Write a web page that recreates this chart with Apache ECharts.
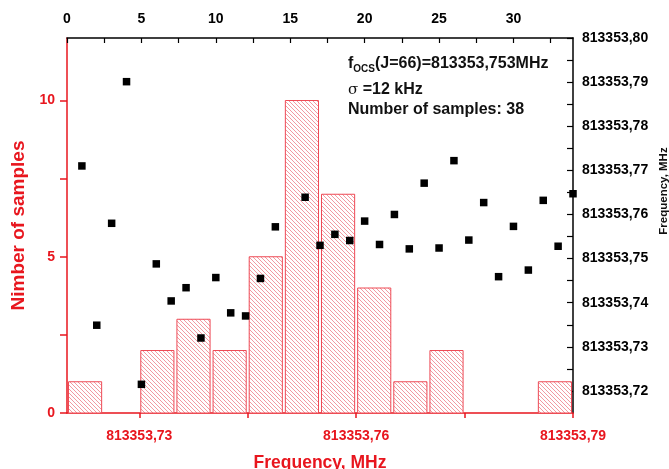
<!DOCTYPE html>
<html><head><meta charset="utf-8">
<script src="https://cdn.jsdelivr.net/npm/echarts@6/dist/echarts.min.js"></script>
<style>html,body{margin:0;padding:0;background:#fff;overflow:hidden}#c{width:669px;height:469px}</style>
</head><body><div id="c"></div>
<script>
// ---- data ----
const binStarts = [813353.720, 813353.730, 813353.735, 813353.740, 813353.745, 813353.750, 813353.755, 813353.760, 813353.765, 813353.770, 813353.785];
const binWidth = 0.005;
const binCounts = [1, 2, 3, 2, 5, 10, 7, 4, 1, 2, 1];
const sampleIndex = [1,2,3,4,5,6,7,8,9,10,11,12,13,14,16,17,18,19,20,21,22,23,24,25,26,27,28,29,30,31,32,33,34];
const sampleFreq = [813353.7710, 813353.7349, 813353.7580, 813353.7901, 813353.7215, 813353.7488, 813353.7404, 813353.7434, 813353.7320, 813353.7457, 813353.7377, 813353.7370, 813353.7455, 813353.7572, 813353.7639, 813353.7530, 813353.7555, 813353.7541, 813353.7585, 813353.7532, 813353.7600, 813353.7522, 813353.7671, 813353.7524, 813353.7722, 813353.7542, 813353.7627, 813353.7459, 813353.7573, 813353.7474, 813353.7632, 813353.7528, 813353.7647];
const bottomTickLabels = [813353.73, 813353.76, 813353.79];
const bottomTicks = [813353.73, 813353.745, 813353.76, 813353.775, 813353.79];
const topTickLabels = [0, 5, 10, 15, 20, 25, 30];
const topTicks = [0, 2.5, 5, 7.5, 10, 12.5, 15, 17.5, 20, 22.5, 25, 27.5, 30, 32.5];
const leftTickLabels = [0, 5, 10];
const leftTicks = [0, 2.5, 5, 7.5, 10];
const rightTickLabels = [813353.72, 813353.73, 813353.74, 813353.75, 813353.76, 813353.77, 813353.78, 813353.79, 813353.80];
const rightTicks = [813353.72, 813353.725, 813353.73, 813353.735, 813353.74, 813353.745, 813353.75, 813353.755, 813353.76, 813353.765, 813353.77, 813353.775, 813353.78, 813353.785, 813353.79, 813353.795, 813353.80];

// ---- styles ----
const RED = '#e8161e';
const FONT = '"Liberation Sans", Arial, Helvetica, sans-serif';
const fmt2 = v => v.toFixed(2).replace('.', ',');

// hatch pattern
const pat = document.createElement('canvas');
const P = 4;
pat.width = P; pat.height = P;
const pc = pat.getContext('2d');
pc.fillStyle = '#fff'; pc.fillRect(0, 0, P, P);
pc.strokeStyle = '#f19aa2'; pc.lineWidth = 1;
pc.beginPath();
pc.moveTo(-1, -1); pc.lineTo(P + 1, P + 1);
pc.moveTo(-1, P - 1); pc.lineTo(1, P + 1);
pc.moveTo(P - 1, -1); pc.lineTo(P + 1, 1);
pc.stroke();

const histData = binStarts.map((s, i) => [s, s + binWidth, binCounts[i]]);
const scatterData = sampleIndex.map((n, i) => [n, sampleFreq[i]]);

const chart = echarts.init(document.getElementById('c'), null, {renderer: 'canvas'});
chart.setOption({
  animation: false,
  backgroundColor: '#fff',
  grid: {left: 67, right: 96, top: 38, bottom: 56, containLabel: false, outerBoundsMode: 'none'},
  xAxis: [
    {
      type: 'value', position: 'bottom', min: 813353.72, max: 813353.79,
      axisLine: {show: true, lineStyle: {color: RED, width: 1.5}},
      axisTick: {show: true, inside: false, length: 5, customValues: bottomTicks, lineStyle: {color: RED, width: 1.5}},
      axisLabel: {customValues: bottomTickLabels, formatter: fmt2, color: RED, fontSize: 14, fontWeight: 'bold', fontFamily: FONT, margin: 16},
      splitLine: {show: false},
      name: 'Frequency, MHz', nameLocation: 'middle', nameGap: 41,
      nameTextStyle: {color: RED, fontSize: 17.5, fontWeight: 'bold', fontFamily: FONT}
    },
    {
      type: 'value', position: 'top', min: 0, max: 34,
      axisLine: {show: true, lineStyle: {color: '#000', width: 1.5}},
      axisTick: {show: true, inside: true, length: 5, customValues: topTicks, lineStyle: {color: '#000', width: 1.2}},
      axisLabel: {customValues: topTickLabels, color: '#000', fontSize: 14, fontWeight: 'bold', fontFamily: FONT, margin: 12},
      splitLine: {show: false}
    }
  ],
  yAxis: [
    {
      type: 'value', position: 'left', min: 0, max: 12,
      axisLine: {show: true, lineStyle: {color: RED, width: 1.5}},
      axisTick: {show: true, inside: false, length: 7, customValues: leftTicks, lineStyle: {color: RED, width: 1.5}},
      axisLabel: {customValues: leftTickLabels, color: RED, fontSize: 14, fontWeight: 'bold', fontFamily: FONT, margin: 12},
      splitLine: {show: false},
      name: 'Nimber of samples', nameLocation: 'middle', nameGap: 38,
      nameTextStyle: {color: RED, fontSize: 19, fontWeight: 'bold', fontFamily: FONT}
    },
    {
      type: 'value', position: 'right', min: 813353.715, max: 813353.80,
      axisLine: {show: true, lineStyle: {color: '#000', width: 1.5}},
      axisTick: {show: true, inside: true, length: 6, customValues: rightTicks, lineStyle: {color: '#000', width: 1.2}},
      axisLabel: {customValues: rightTickLabels, formatter: fmt2, color: '#000', fontSize: 14, fontWeight: 'bold', fontFamily: FONT, margin: 9},
      splitLine: {show: false}
    }
  ],
  series: [
    {
      type: 'custom', xAxisIndex: 0, yAxisIndex: 0, data: histData,
      renderItem: function (params, api) {
        const p0 = api.coord([api.value(0), 0]);
        const p1 = api.coord([api.value(1), api.value(2)]);
        return {
          type: 'rect',
          shape: {x: p0[0] + 1.5, y: p1[1], width: p1[0] - p0[0] - 3, height: p0[1] - p1[1]},
          style: {fill: {image: pat, repeat: 'repeat'}, stroke: '#ee4a55', lineWidth: 1}
        };
      }
    },
    {
      type: 'scatter', xAxisIndex: 1, yAxisIndex: 1, data: scatterData,
      symbol: 'rect', symbolSize: 7.5, itemStyle: {color: '#000', opacity: 1}, clip: false
    }
  ],
  graphic: [
    {
      type: 'text', x: 348, y: 63.5,
      style: {
        text: '{m|f}{s|OCS}{m|(J=66)=813353,753MHz}',
        verticalAlign: 'middle',
        rich: {
          m: {fontSize: 16, fontWeight: 'bold', fontFamily: FONT, fill: '#111', lineHeight: 22, verticalAlign: 'middle'},
          s: {fontSize: 10, fontWeight: 'bold', fontFamily: FONT, fill: '#111', lineHeight: 12, verticalAlign: 'bottom'}
        }
      }
    },
    {
      type: 'text', x: 348, y: 90,
      style: {
        text: '{g|σ}{m| =12 kHz}',
        verticalAlign: 'middle',
        rich: {
          g: {fontSize: 15, fontFamily: '"DejaVu Serif", serif', fill: '#111', lineHeight: 20},
          m: {fontSize: 16, fontWeight: 'bold', fontFamily: FONT, fill: '#111', lineHeight: 20}
        }
      }
    },
    {
      type: 'text', x: 348, y: 109.5,
      style: {text: 'Number of samples: 38', font: 'bold 16px ' + FONT, fill: '#111', verticalAlign: 'middle'}
    },
    {
      type: 'text', x: 664, y: 191, rotation: Math.PI / 2,
      style: {text: 'Frequency, MHz', font: 'bold 11.5px ' + FONT, fill: '#111', align: 'center', verticalAlign: 'middle'}
    }
  ]
});
</script>
</body></html>
